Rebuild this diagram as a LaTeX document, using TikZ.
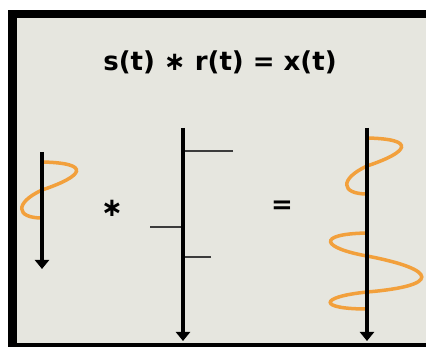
\documentclass[tikz,border=0pt]{standalone}
\usepackage{fontspec}
\setmainfont{DejaVu Sans}
\usetikzlibrary{arrows.meta}
\definecolor{panelbg}{RGB}{230,230,223}
\definecolor{waveorange}{RGB}{242,160,60}
\definecolor{spikegray}{RGB}{60,60,60}

\begin{document}
\begin{tikzpicture}[x=1pt, y=-1pt,
  axis/.style={line width=3.2pt, -{Triangle[width=14pt,length=9pt]}},
  spike/.style={draw=spikegray, line width=1.2pt},
  wave/.style={draw=waveorange, line width=3.5pt, line cap=round},
  sym/.style={font=\bfseries\fontsize{26}{30}\selectfont},
  swave/.pic={
    \draw[wave] (0,0) .. controls (50,1) and (42,14) .. (0,28)
                      .. controls (-28,41) and (-26,56) .. (0,56);
  }
]
  \useasboundingbox (0,0) rectangle (426,347);
  % panel and frame
  \fill[white] (0,0) rectangle (426,347);
  \fill[panelbg] (8,10) rectangle (426,347);
  \fill[black] (8,10) rectangle (17,347);
  \fill[black] (8,10) rectangle (426,18);
  \fill[black] (8,343) rectangle (426,347);

  \node[sym] (title) at (220,62) {s(t) ∗ r(t) = x(t)};

  % input signal
  \coordinate (s top) at (42,152);
  \coordinate (s end) at (42,269);
  \pic at (42,162) {swave};
  \draw[axis] (s top) -- (s end);

  \node[sym] (conv) at (112,208) {∗};

  % impulse response
  \coordinate (r top) at (183,128);
  \coordinate (r end) at (183,341);
  \coordinate (r1) at (233,151);
  \coordinate (r2) at (150,227);
  \coordinate (r3) at (211,257);
  \draw[spike] (r1) -- (r1 -| r top);
  \draw[spike] (r2) -- (r2 -| r top);
  \draw[spike] (r3) -- (r3 -| r top);
  \draw[axis] (r top) -- (r end);

  \node[sym] (eq) at (282,207) {=};

  % output signal
  \coordinate (x top) at (367,128);
  \coordinate (x end) at (367,341);
  \pic at (367,138) {swave};
  \draw[wave] (367,233) .. controls (315,234) and (322,248) .. (367,256)
              .. controls (440,270) and (440,286) .. (367,292)
              .. controls (318,297) and (318,309) .. (367,309);
  \draw[axis] (x top) -- (x end);
\end{tikzpicture}
\end{document}
